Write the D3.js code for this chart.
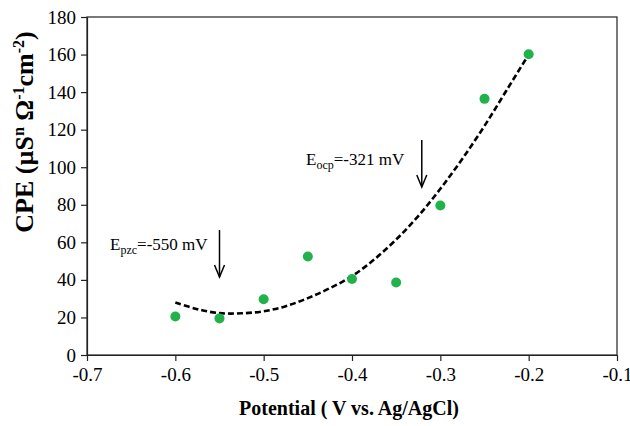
<!DOCTYPE html>
<html>
<head>
<meta charset="utf-8">
<script src="https://cdn.jsdelivr.net/npm/d3@7"></script>
<style>
  html, body { margin: 0; padding: 0; background: #fff; }
  svg { display: block; }
  text { font-family: "Liberation Serif", "Times New Roman", serif; fill: #000; }
  .tick text { font-family: "Liberation Serif", serif !important; }
</style>
</head>
<body>
<svg id="chart" width="630" height="426"></svg>
<script>
// ---- data ----
const potentials = [-0.6, -0.55, -0.5, -0.45, -0.4, -0.35, -0.3, -0.25, -0.2];
const cpeValues  = [20.5, 19.5, 29.7, 52.5, 40.5, 38.6, 79.6, 136.4, 160.2];

// dashed trend line
const trendX = [-0.6, -0.575, -0.55, -0.525, -0.5, -0.475, -0.45, -0.425, -0.4, -0.375, -0.35, -0.325, -0.3, -0.275, -0.25, -0.225, -0.2];
const trendY = [28, 24.4, 22.3, 22.2, 23.3, 26.0, 30.3, 35.6, 42.0, 50.8, 61.5, 74.0, 88.5, 104.5, 122, 141, 160];

const xTicks = [-0.7, -0.6, -0.5, -0.4, -0.3, -0.2, -0.1];
const xTickLabels = ["-0.7", "-0.6", "-0.5", "-0.4", "-0.3", "-0.2", "-0.1"];
const yTicks = [0, 20, 40, 60, 80, 100, 120, 140, 160, 180];

const annotations = [
  { main: "E", sub: "pzc", rest: "=-550 mV", at: -0.55 },
  { main: "E", sub: "ocp", rest: "=-321 mV", at: -0.321 }
];

// ---- layout ----
const svg = d3.select("#chart");
const L = 87, R = 617, T = 17, B = 355;
const serif = "Liberation Serif, serif";

const x = d3.scaleLinear().domain([-0.7, -0.1]).range([L, R]);
const y = d3.scaleLinear().domain([0, 180]).range([B, T]);

// plot box
svg.append("rect")
  .attr("x", L).attr("y", T).attr("width", R - L).attr("height", B - T)
  .attr("fill", "none").attr("stroke", "#222").attr("stroke-width", 1.2);

// axes
const yAxis = d3.axisLeft(y).tickValues(yTicks).tickSize(6).tickSizeOuter(0).tickPadding(5);
const gy = svg.append("g").attr("transform", `translate(${L},0)`).call(yAxis);
const xAxis = d3.axisBottom(x).tickValues(xTicks).tickSize(6).tickSizeOuter(0)
  .tickFormat((d, i) => xTickLabels[i]).tickPadding(6);
const gx = svg.append("g").attr("transform", `translate(0,${B})`).call(xAxis);

[gx, gy].forEach(g => {
  g.attr("font-family", serif).attr("font-size", 19);
  g.select(".domain").attr("stroke", "#222").attr("stroke-width", 1.2);
  g.selectAll(".tick line").attr("stroke", "#222").attr("stroke-width", 1.2);
  g.selectAll(".tick text")
    .attr("font-family", serif)
    .attr("font-size", 19).attr("fill", "#000");
});
gx.selectAll(".tick text").attr("dy", "0.75em");

// trend line
const line = d3.line().x((d, i) => x(trendX[i])).y(d => y(d)).curve(d3.curveCatmullRom);
svg.append("path")
  .datum(trendY)
  .attr("d", line)
  .attr("fill", "none")
  .attr("stroke", "#000")
  .attr("stroke-width", 2.6)
  .attr("stroke-dasharray", "6,3");

// points
svg.append("g").selectAll("circle")
  .data(cpeValues)
  .join("circle")
  .attr("cx", (d, i) => x(potentials[i]))
  .attr("cy", d => y(d))
  .attr("r", 5)
  .attr("fill", "#21b24b");

// annotations
const annLayout = [
  { tx: 110, ty: 250, ay1: 230, ay2: 277 },
  { tx: 306, ty: 165, ay1: 140, ay2: 187 }
];
annotations.forEach((a, i) => {
  const lay = annLayout[i];
  const t = svg.append("text").attr("x", lay.tx).attr("y", lay.ty).attr("font-size", 17);
  t.append("tspan").text(a.main);
  t.append("tspan").attr("font-size", 12).attr("dy", 4).text(a.sub);
  t.append("tspan").attr("dy", -4).text(a.rest);
  const ax = x(a.at);
  svg.append("line").attr("x1", ax).attr("x2", ax).attr("y1", lay.ay1).attr("y2", lay.ay2)
    .attr("stroke", "#000").attr("stroke-width", 1.5);
  svg.append("path")
    .attr("d", `M${ax - 5},${lay.ay2 - 12} L${ax},${lay.ay2} L${ax + 5},${lay.ay2 - 12}`)
    .attr("fill", "none").attr("stroke", "#000").attr("stroke-width", 1.5);
});

// axis titles
svg.append("text")
  .attr("x", 349).attr("y", 415)
  .attr("text-anchor", "middle")
  .attr("font-size", 20).attr("font-weight", "bold")
  .text("Potential ( V vs. Ag/AgCl)");

const yt = svg.append("text")
  .attr("transform", "translate(33,132) rotate(-90)")
  .attr("text-anchor", "middle")
  .attr("font-size", 26).attr("font-weight", "bold");
yt.append("tspan").text("CPE (µS");
yt.append("tspan").attr("font-size", 16).attr("dy", -9).text("n");
yt.append("tspan").attr("dy", 9).text(" Ω");
yt.append("tspan").attr("font-size", 16).attr("dy", -9).text("-1");
yt.append("tspan").attr("dy", 9).text("cm");
yt.append("tspan").attr("font-size", 16).attr("dy", -9).text("-2");
yt.append("tspan").attr("dy", 9).text(")");
</script>
</body>
</html>
